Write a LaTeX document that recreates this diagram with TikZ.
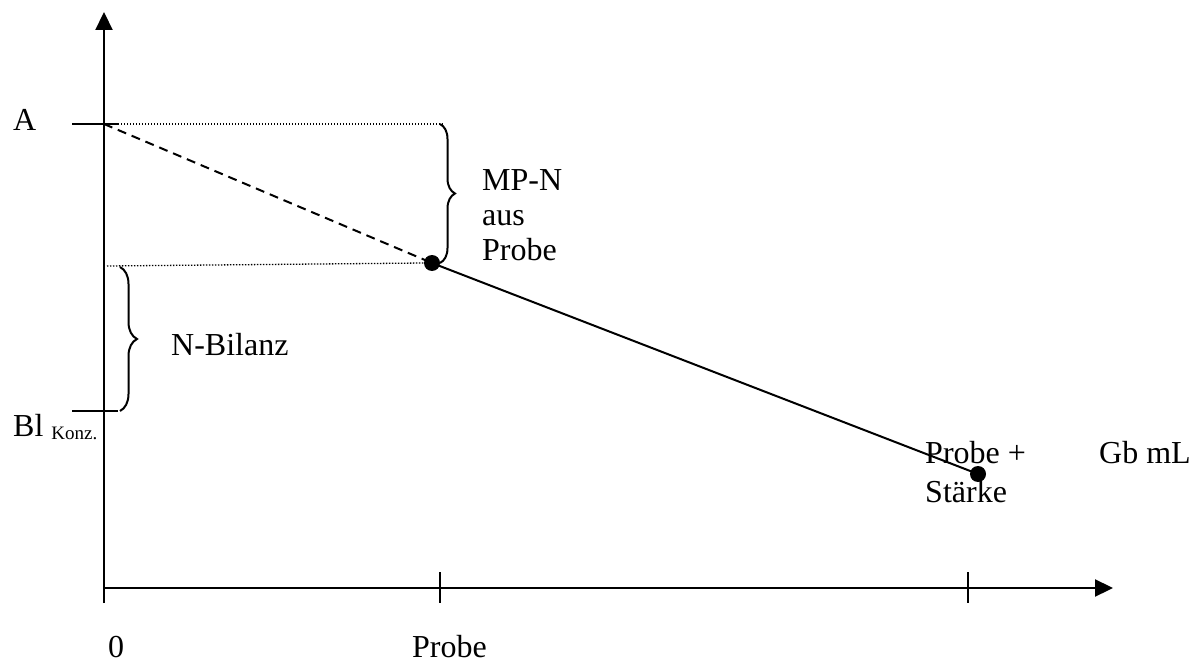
\documentclass[tikz,border=0pt]{standalone}
\usepackage{fontspec}
\setmainfont{Liberation Serif}
\usetikzlibrary{arrows.meta,decorations.pathreplacing}
\begin{document}
\begin{tikzpicture}[x=1pt,y=-1pt,
  axis/.style={line width=2.2pt,-{Triangle[length=18pt,width=17pt]}},
  tickline/.style={line width=2.2pt},
  guide/.style={line width=1.3pt,dash pattern=on 1.4pt off 1.6pt},
  curve/.style={line width=2pt},
  extrap/.style={line width=2pt,dash pattern=on 9pt off 6pt},
  bracestyle/.style={line width=2pt,decorate,decoration={brace,amplitude=#1}},
  dotnode/.style={circle,fill=black,inner sep=0pt,minimum size=16pt},
  lbl/.style={font=\fontsize{32}{36}\selectfont,inner sep=0pt,anchor=base west,align=left},
]
\useasboundingbox (0,0) rectangle (1194,663);
% axes
\coordinate (ybot) at (104,603);
\coordinate (ytop) at (104,12);
\coordinate (O) at (104,588);
\coordinate (xend) at (1113,588);
\draw[axis] (ybot) -- (ytop);
\draw[axis] (O) -- (xend);
% x ticks
\coordinate (t1a) at (440,572); \coordinate (t1b) at (440,603);
\coordinate (t2a) at (968,572); \coordinate (t2b) at (968,603);
\draw[tickline] (t1a) -- (t1b);
\draw[tickline] (t2a) -- (t2b);
% y ticks
\coordinate (Aa) at (72,124); \coordinate (Ab) at (118,124);
\coordinate (Ba) at (72,411); \coordinate (Bb) at (118,411);
\draw[tickline] (Aa) -- (Ab);
\draw[tickline] (Ba) -- (Bb);
% points
\coordinate (A0) at (104,124);
\node[dotnode] (P1) at (432,263) {};
\node[dotnode] (P2) at (978,474) {};
% guide lines
\coordinate (g1) at (443,124);
\coordinate (g2a) at (107,266);
\draw[guide] (Ab) -- (g1);
\draw[guide] (g2a) -- (P1.west);
% lines
\draw[extrap] (A0) -- (P1.center);
\draw[curve] (P1.center) -- (P2.center);
% braces
\coordinate (b1a) at (440,124); \coordinate (b1b) at (440,263);
\coordinate (b2a) at (120,267); \coordinate (b2b) at (120,411);
\draw[bracestyle=15pt] (b1a) -- (b1b);
\draw[bracestyle=17pt] (b2a) -- (b2b);
% labels
\node[lbl] (lA) at (13,131) {A};
\node[lbl] (lBl) at (13,436) {Bl \raisebox{-3pt}{\fontsize{19}{20}\selectfont Konz.}};
\node[lbl] (lNB) at (171,355) {N-Bilanz};
\node[lbl,font=\fontsize{32}{35}\selectfont] (lMP) at (482,260) {MP-N\\aus\\Probe};
\node[lbl,font=\fontsize{32}{39}\selectfont] (lPS) at (925,502) {Probe +\\St\"arke};
\node[lbl] (lGb) at (1099,463) {Gb mL};
\node[lbl] (l0) at (108,657) {0};
\node[lbl] (lProbe) at (412,657) {Probe};
\end{tikzpicture}
\end{document}
